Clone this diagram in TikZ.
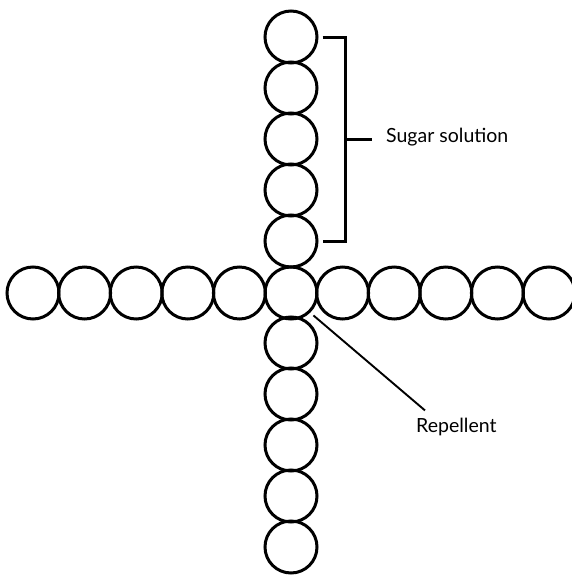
\documentclass[tikz,border=0pt]{standalone}
\usepackage{fontspec}
\setmainfont{Lato}
\begin{document}
\begin{tikzpicture}[x=1pt,y=-1pt,
  bead/.style={draw=black,circle,line width=3pt,minimum size=52pt,inner sep=0pt},
  lbl/.style={inner sep=0pt,font=\fontsize{19.5}{22}\selectfont},
  brk/.style={line width=3pt},
  ptr/.style={line width=1.9pt}]
\useasboundingbox (0,0) rectangle (571,576);
% horizontal row
\foreach \i in {0,...,10} {
  \node[bead] (h\i) at ({33+51.6*\i},293) {};
}
% vertical column (centre shared with h5)
\foreach \j in {0,1,2,3,4,6,7,8,9,10} {
  \node[bead] (v\j) at (291,{37+51*\j}) {};
}
% labels
\node[lbl,anchor=base west] (sug) at (386,142) {Sugar solution};
\node[lbl,anchor=base west] (rep) at (416,432) {Repellent};
% bracket
\coordinate (bmid) at (345,139);
\draw[brk] ([xshift=4pt]v0.east) -- (345,37) -- (345,241) -- ([xshift=4pt]v4.east);
\draw[brk] (bmid) -- (372,139);
% repellent pointer
\draw[ptr] ([shift={(3pt,-3pt)}]h5.-45) -- ([shift={(9pt,7pt)}]rep.north west);
\end{tikzpicture}
\end{document}
